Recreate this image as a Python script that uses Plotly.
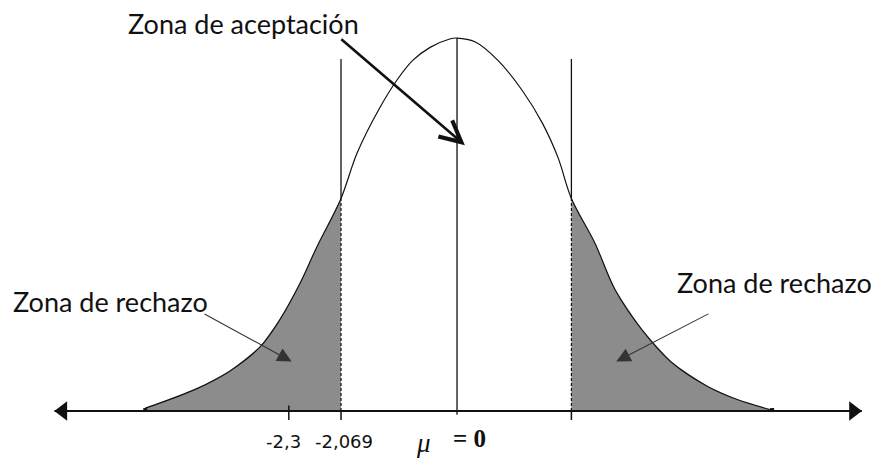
import plotly.graph_objects as go

# curve (z units, density-like heights)
curve_z = [-5.56, -4.64, -4.05, -3.51, -3.16, -2.80, -2.50, -2.069, -1.78, -1.37,
           -1.07, -0.79, -0.48, -0.13, 0.0, 0.32, 0.73, 1.16, 1.52, 1.80, 2.04,
           2.46, 2.82, 3.30, 3.83, 4.48, 5.01, 5.62]
curve_y = [0.003, 0.024, 0.043, 0.069, 0.098, 0.137, 0.176, 0.228, 0.277, 0.326,
           0.355, 0.376, 0.390, 0.399, 0.400, 0.396, 0.376, 0.344, 0.309, 0.272, 0.228,
           0.180, 0.130, 0.087, 0.052, 0.026, 0.012, 0.001]

crit_left = -2.069
crit_right = 2.04
tick_pos = [-3.0, -2.069]
tick_text = ['-2,3', '-2,069']
tick_label_pos = [-3.10, -2.015]

INK = '#111111'
SHADE = '#8c8c8c'
LABEL_FONT = 'Lato, Open Sans, sans-serif'
TICK_FONT = 'DejaVu Sans, sans-serif'

fig = go.Figure()

# ── shaded rejection tails ────────────────────────
left = [(z, y) for z, y in zip(curve_z, curve_y) if z <= crit_left]
right = [(z, y) for z, y in zip(curve_z, curve_y) if z >= crit_right]
for pts in (left, right):
    zs = [p[0] for p in pts]
    ys = [p[1] for p in pts]
    fig.add_trace(go.Scatter(x=zs + [zs[-1], zs[0]], y=ys + [0, 0], fill='toself',
                             fillcolor=SHADE, line=dict(width=0), mode='lines',
                             hoverinfo='skip'))

# ── curve ─────────────────────────────────────────
fig.add_trace(go.Scatter(x=curve_z, y=curve_y, mode='lines',
                         line=dict(color=INK, width=1.2, shape='spline')))
fig.add_trace(go.Scatter(x=[curve_z[0], curve_z[-1]], y=[0.001, 0.001], mode='markers',
                         marker=dict(symbol='square', size=4, color=INK)))

# ── vertical lines ────────────────────────────────
crit_h = curve_y[curve_z.index(crit_left)]
top_h = 0.3775
fig.add_trace(go.Scatter(x=[0, 0], y=[-0.004, max(curve_y)], mode='lines',
                         line=dict(color=INK, width=1.3)))
for c in (crit_left, crit_right):
    fig.add_trace(go.Scatter(x=[c, c], y=[crit_h, top_h], mode='lines',
                             line=dict(color=INK, width=1.3)))
    fig.add_trace(go.Scatter(x=[c, c], y=[0, crit_h], mode='lines',
                             line=dict(color=INK, width=1.2, dash='3px,2px')))

# ── axis with arrows and ticks ────────────────────
fig.add_trace(go.Scatter(x=[-7.18, 7.22], y=[0, 0], mode='lines',
                         line=dict(color=INK, width=2)))
fig.add_trace(go.Scatter(x=[-7.03, 7.07], y=[0, 0], mode='markers',
                         marker=dict(symbol=['triangle-left', 'triangle-right'],
                                     size=17, color=INK)))
for t in tick_pos + [crit_right]:
    fig.add_trace(go.Scatter(x=[t, t], y=[0.006 if t == tick_pos[0] else 0, -0.0097],
                             mode='lines', line=dict(color=INK, width=1.5)))

# ── labels ────────────────────────────────────────
for t, txt in zip(tick_label_pos, tick_text):
    fig.add_annotation(x=t, y=-0.0332, text=txt, showarrow=False,
                       font=dict(family=TICK_FONT, size=18, color=INK))
fig.add_annotation(x=-0.589, y=-0.0345, text='<i>μ</i>', showarrow=False,
                   font=dict(family='Liberation Serif, serif', size=27, color=INK))
fig.add_annotation(x=0.22, y=-0.030, text='<b>= 0</b>', showarrow=False,
                   font=dict(family='Liberation Serif, serif', size=25, color=INK))

fig.add_annotation(x=-3.817, y=0.4161, text='Zona de aceptación', showarrow=False,
                   font=dict(family=LABEL_FONT, size=27, color=INK))
fig.add_annotation(x=-6.189, y=0.1169, text='Zona de rechazo', showarrow=False,
                   font=dict(family=LABEL_FONT, size=27, color=INK))
fig.add_annotation(x=5.654, y=0.1383, text='Zona de rechazo', showarrow=False,
                   font=dict(family=LABEL_FONT, size=27, color=INK))

# arrows
fig.add_annotation(x=0.14, y=0.285, ax=-2.09, ay=0.400, axref='x', ayref='y',
                   text='', showarrow=True, arrowhead=5, arrowsize=1.6,
                   arrowwidth=2.6, arrowcolor=INK)
fig.add_annotation(x=-2.95, y=0.053, ax=-4.53, ay=0.105, axref='x', ayref='y',
                   text='', showarrow=True, arrowhead=2, arrowsize=2.6,
                   arrowwidth=1.1, arrowcolor='#333333')
fig.add_annotation(x=2.84, y=0.053, ax=4.51, ay=0.105, axref='x', ayref='y',
                   text='', showarrow=True, arrowhead=2, arrowsize=2.6,
                   arrowwidth=1.1, arrowcolor='#333333')

fig.update_xaxes(visible=False, range=[-8.151, 7.437])
fig.update_yaxes(visible=False, range=[-0.0515, 0.4408])
fig.update_layout(width=874, height=459, margin=dict(l=0, r=0, t=0, b=0),
                  paper_bgcolor='white', plot_bgcolor='white', showlegend=False)

fig.write_html('out.html', config={'displayModeBar': False},
               post_script="document.body.style.margin='0';")
